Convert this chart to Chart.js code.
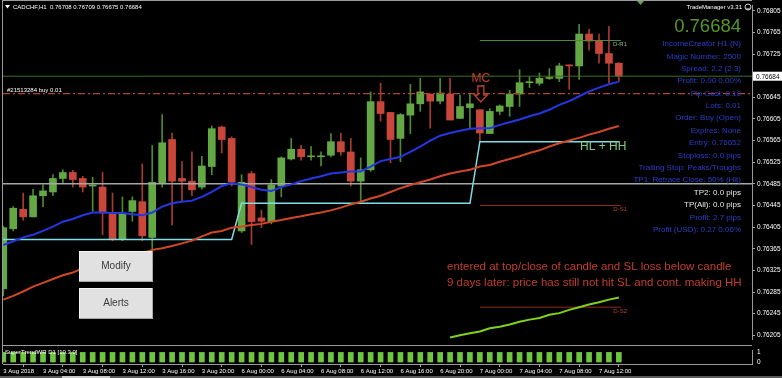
<!DOCTYPE html>
<html><head><meta charset="utf-8">
<script src="https://cdn.jsdelivr.net/npm/chart.js@4.4.1/dist/chart.umd.min.js"></script>
<style>
html,body{margin:0;padding:0;background:#000;overflow:hidden}
#wrap{position:relative;width:782px;height:378px;background:#000}
#cMain{position:absolute;left:0;top:0}
#cInd{position:absolute;left:0;top:345px}
</style></head><body>
<div id="wrap">
<canvas id="cMain" width="782" height="345"></canvas>
<canvas id="cInd" width="782" height="33"></canvas>
</div>
<script>
// ---------------- DATA ----------------
const symbol = "CADCHF,H1";
const open = [0.76291,0.76402,0.76438,0.76424,0.76463,0.76470,0.76495,0.76506,0.76495,0.76481,
0.76479,0.76432,0.76382,0.76434,0.76452,0.76386,0.76486,0.76567,0.76495,0.76490,
0.76479,0.76517,0.76590,0.76569,0.76398,0.76504,0.76422,0.76415,0.76481,0.76531,
0.76549,0.76535,0.76535,0.76538,0.76563,0.76544,0.76490,0.76511,0.76637,0.76617,
0.76569,0.76612,0.76633,0.76651,0.76638,0.76651,0.76606,0.76626,0.76622,0.76578,
0.76619,0.76628,0.76651,0.76672,0.76671,0.76680,0.76680,0.76705,0.76703,0.76762,
0.76749,0.76726,0.76708];
const high = [0.76407,0.76443,0.76468,0.76475,0.76483,0.76502,0.76511,0.76510,0.76499,0.76497,
0.76506,0.76468,0.76461,0.76461,0.76522,0.76556,0.76613,0.76579,0.76526,0.76544,
0.76536,0.76592,0.76592,0.76572,0.76502,0.76508,0.76436,0.76493,0.76535,0.76569,
0.76556,0.76554,0.76544,0.76578,0.76579,0.76569,0.76533,0.76655,0.76671,0.76617,
0.76615,0.76669,0.76680,0.76651,0.76680,0.76680,0.76649,0.76651,0.76622,0.76624,
0.76631,0.76658,0.76696,0.76683,0.76690,0.76698,0.76708,0.76705,0.76780,0.76771,
0.76762,0.76776,0.76709];
const low = [0.76278,0.76398,0.76418,0.76424,0.76443,0.76463,0.76486,0.76479,0.76470,0.76434,
0.76391,0.76380,0.76380,0.76416,0.76380,0.76332,0.76479,0.76409,0.76452,0.76463,
0.76475,0.76502,0.76542,0.76481,0.76395,0.76373,0.76404,0.76411,0.76461,0.76529,
0.76529,0.76529,0.76518,0.76535,0.76538,0.76481,0.76449,0.76508,0.76601,0.76524,
0.76526,0.76578,0.76619,0.76588,0.76633,0.76603,0.76606,0.76588,0.76565,0.76578,
0.76613,0.76610,0.76628,0.76663,0.76667,0.76678,0.76674,0.76660,0.76678,0.76732,
0.76708,0.76672,0.76675];
const close = [0.76404,0.76440,0.76424,0.76463,0.76472,0.76495,0.76506,0.76493,0.76479,0.76482,
0.76431,0.76382,0.76429,0.76454,0.76389,0.76488,0.76561,0.76490,0.76490,0.76474,
0.76518,0.76587,0.76567,0.76488,0.76488,0.76415,0.76416,0.76483,0.76533,0.76549,
0.76535,0.76535,0.76536,0.76563,0.76544,0.76490,0.76511,0.76637,0.76615,0.76567,
0.76613,0.76633,0.76655,0.76638,0.76653,0.76603,0.76628,0.76633,0.76579,0.76619,
0.76629,0.76651,0.76672,0.76672,0.76680,0.76681,0.76703,0.76703,0.76762,0.76749,
0.76726,0.76708,0.76684];
const maFast = [0.76372,0.76379,0.76386,0.76391,0.76398,0.76406,0.76415,0.76420,0.76427,0.76432,
0.76432,0.76431,0.76431,0.76429,0.76427,0.76432,0.76443,0.76449,0.76452,0.76454,
0.76461,0.76470,0.76481,0.76486,0.76484,0.76479,0.76474,0.76472,0.76479,0.76484,
0.76490,0.76495,0.76499,0.76504,0.76506,0.76508,0.76508,0.76517,0.76527,0.76531,
0.76535,0.76544,0.76554,0.76565,0.76574,0.76579,0.76583,0.76587,0.76588,0.76588,
0.76594,0.76599,0.76604,0.76610,0.76615,0.76622,0.76631,0.76638,0.76647,0.76656,
0.76663,0.76669,0.76674];
const maSlow = [0.76271,0.76278,0.76286,0.76295,0.76302,0.76309,0.76316,0.76321,0.76329,0.76334,
0.76339,0.76343,0.76348,0.76354,0.76357,0.76363,0.76366,0.76370,0.76375,0.76380,
0.76388,0.76395,0.76398,0.76404,0.76406,0.76409,0.76411,0.76415,0.76418,0.76422,
0.76425,0.76429,0.76432,0.76436,0.76441,0.76447,0.76452,0.76458,0.76463,0.76470,
0.76477,0.76483,0.76488,0.76493,0.76499,0.76504,0.76508,0.76511,0.76517,0.76520,
0.76526,0.76531,0.76536,0.76542,0.76547,0.76554,0.76560,0.76565,0.76570,0.76576,
0.76581,0.76587,0.76592];
const maLongStart = 45;
const maLong = [0.76201,0.76205,0.76209,0.76212,0.76218,0.76221,0.76225,0.76230,0.76234,0.76237,
0.76243,0.76246,0.76252,0.76257,0.76262,0.76266,0.76271,0.76275];
const trailStop = [0.76382,0.76382,0.76382,0.76382,0.76382,0.76382,0.76382,0.76382,0.76382,0.76382,
0.76382,0.76382,0.76382,0.76382,0.76382,0.76382,0.76382,0.76382,0.76382,0.76382,
0.76382,0.76382,0.76382,0.76382,0.76449,0.76449,0.76449,0.76449,0.76449,0.76449,
0.76449,0.76449,0.76449,0.76449,0.76449,0.76449,0.76449,0.76449,0.76449,0.76449,
0.76449,0.76449,0.76449,0.76449,0.76449,0.76449,0.76449,0.76449,0.76563,0.76563,
0.76563,0.76563,0.76563,0.76563,0.76563,0.76563,0.76563,0.76563,0.76563,0.76563,
0.76563,0.76563,0.76563];
const superTrend = [1,1,1,1,1,1,1,1,1,1,1,1,1,1,1,1,1,1,1,1,1,1,1,1,1,1,1,1,1,1,1,1,1,1,1,1,1,1,1,1,1,1,1,1,1,1,1,1,1,1,1,1,1,1,1,1,1,1,1,1,1,1,1];
const grayLevel = 0.76485;
const entryLevel = 0.76652;
const pivotR1 = 0.76750;
const pivotS1 = 0.76445;
const pivotS2 = 0.76257;
const pivotRange = [48, 62.2];
const yTicks = [0.76805,0.76765,0.76725,0.76685,0.76645,0.76605,0.76565,0.76525,0.76485,0.76445,0.76405,0.76365,0.76325,0.76285,0.76245,0.76205];
const xTickBars = [0,4,8,12,16,20,24,28,32,36,40,44,48,52,56,60];
const xTickLabels = ["3 Aug 2018","3 Aug 04:00","3 Aug 08:00","3 Aug 12:00","3 Aug 16:00","3 Aug 20:00","6 Aug 00:00","6 Aug 04:00","6 Aug 08:00","6 Aug 12:00","6 Aug 16:00","6 Aug 20:00","7 Aug 00:00","7 Aug 04:00","7 Aug 08:00","7 Aug 12:00"];
const panelLines = ["IncomeCreator H1 (N)","Magic Number: 2500","Spread: 2.2 (2.3)","Profit: 0.00 0.00%","Pip Cost: 0.10","Lots: 0.01","Order: Buy (Open)","Expires: None","Entry: 0.76652","Stoploss: 0.0 pips","Trailing Stop: Peaks/Troughs","TP1: Retrace Close: 50% (Hit)","TP2: 0.0 pips","TP(All): 0.0 pips","Profit: 2.7 pips","Profit (USD): 0.27 0.06%"];
const panelWhite = [false,false,false,false,false,false,false,false,false,false,false,false,true,true,false,false];
const noteLines = ["entered at top/close of candle and SL loss below candle","9 days later: price has still not hit SL and cont. making HH"];

// ---------------- SETUP ----------------
const FONT = "'Liberation Sans', Arial, sans-serif";
Chart.defaults.font.family = FONT;
Chart.defaults.color = '#ffffff';
const xMin = -0.03, xMax = 75.41;
const bars = open.map((_, i) => i);
const isBull = bars.map(i => close[i] >= open[i]);
const bullBody = '#64a845', bearBody = '#c8473a', bullWick = '#4d8a33', bearWick = '#a63b2f';

function hline(v, from, to, color, width, dash, order) {
  return {type:'line', data:[{x:from,y:v},{x:to,y:v}], borderColor:color, borderWidth:width,
    borderDash:dash||[], pointRadius:0, order:order, fill:false};
}

const overlayMain = {
  id:'overlayMain',
  afterDraw(chart) {
    const ctx = chart.ctx, xs = chart.scales.x, ys = chart.scales.y;
    ctx.save();
    // frame
    ctx.strokeStyle = '#9a9a9a'; ctx.lineWidth = 1;
    ctx.beginPath(); ctx.moveTo(2.5,0); ctx.lineTo(2.5,345); ctx.moveTo(2,0.5); ctx.lineTo(752,0.5); ctx.stroke();
    // chart shift marker
    ctx.fillStyle = '#6f9a5a';
    ctx.beginPath(); ctx.moveTo(637,1); ctx.lineTo(644,1); ctx.lineTo(640.5,5); ctx.closePath(); ctx.fill();
    // header
    ctx.fillStyle = '#ffffff';
    ctx.beginPath(); ctx.moveTo(5,5); ctx.lineTo(10,5); ctx.lineTo(7.5,8.5); ctx.closePath(); ctx.fill();
    const n = close.length - 1;
    ctx.font = '6px ' + FONT; ctx.textBaseline = 'middle'; ctx.textAlign = 'left';
    ctx.fillText(symbol + '  ' + open[n].toFixed(5) + ' ' + high[n].toFixed(5) + ' ' + low[n].toFixed(5) + ' ' + close[n].toFixed(5), 13, 7);
    // entry label
    ctx.fillText('#21513284 buy 0.01', 7, ys.getPixelForValue(entryLevel) - 3.5);
    // TradeManager panel
    ctx.textAlign = 'right';
    ctx.fillText('TradeManager v3.31', 742, 7);
    ctx.strokeStyle = '#ffffff'; ctx.lineWidth = 0.8;
    ctx.beginPath(); ctx.arc(748, 7, 3, 0, Math.PI*2); ctx.stroke();
    ctx.beginPath(); ctx.arc(748, 7.5, 1.6, 0.2, Math.PI-0.2); ctx.stroke();
    ctx.font = '18.5px ' + FONT; ctx.fillStyle = '#55972b'; ctx.textBaseline = 'alphabetic';
    ctx.fillText(close[n].toFixed(5), 741, 32);
    ctx.font = '8px ' + FONT; ctx.textBaseline = 'middle';
    panelLines.forEach((t, k) => {
      ctx.fillStyle = panelWhite[k] ? '#e8e8e8' : '#2a3fc8';
      ctx.fillText(t, 741, 44 + 12.38*k);
    });
    // pivot labels
    ctx.font = '6px ' + FONT; ctx.textAlign = 'right';
    ctx.fillStyle = '#8fb880'; ctx.fillText('D-R1', 627, ys.getPixelForValue(pivotR1) + 4);
    ctx.fillStyle = '#b8402e'; ctx.fillText('D-S1', 627, ys.getPixelForValue(pivotS1) + 4);
    ctx.fillText('D-S2', 627, ys.getPixelForValue(pivotS2) + 4);
    // MC marker
    const mx = xs.getPixelForValue(48) + 1;
    ctx.fillStyle = '#c4402e'; ctx.textAlign = 'center';
    ctx.font = '12px ' + FONT;
    ctx.fillText('MC', mx, 79);
    ctx.strokeStyle = '#c4402e'; ctx.lineWidth = 1.3;
    ctx.beginPath();
    ctx.moveTo(mx-3,86); ctx.lineTo(mx+3,86); ctx.lineTo(mx+3,95); ctx.lineTo(mx+6.5,95);
    ctx.lineTo(mx,102); ctx.lineTo(mx-6.5,95); ctx.lineTo(mx-3,95); ctx.closePath(); ctx.stroke();
    // HL + HH
    ctx.textAlign = 'left'; ctx.fillStyle = '#80cf78'; ctx.font = '12px ' + FONT;
    ctx.fillText('HL + HH', 580, 146.5);
    // note
    ctx.fillStyle = '#c23d2d'; ctx.font = '11.5px ' + FONT;
    ctx.fillText(noteLines[0], 447, 267);
    ctx.fillText(noteLines[1], 447, 282.5);
    // buttons
    [['Modify',251],['Alerts',288]].forEach(([t, y]) => {
      ctx.fillStyle = '#e1e1e1'; ctx.fillRect(79, y, 74, 31);
      ctx.strokeStyle = '#f4f4f4'; ctx.lineWidth = 1;
      ctx.beginPath(); ctx.moveTo(79.5,y+31); ctx.lineTo(79.5,y+0.5); ctx.lineTo(153,y+0.5); ctx.stroke();
      ctx.strokeStyle = '#a8a8a8';
      ctx.beginPath(); ctx.moveTo(152.5,y); ctx.lineTo(152.5,y+30.5); ctx.lineTo(79,y+30.5); ctx.stroke();
      ctx.fillStyle = '#3a3a3a'; ctx.textAlign = 'center'; ctx.font = '10px ' + FONT;
      ctx.fillText(t, 116, y + 15.5);
    });
    // bid box on axis
    const by = ys.getPixelForValue(close[n]);
    ctx.fillStyle = '#ffffff'; ctx.fillRect(753, by - 4.5, 29, 9);
    ctx.fillStyle = '#000000'; ctx.textAlign = 'left'; ctx.font = '6.5px ' + FONT;
    ctx.fillText(close[n].toFixed(5), 756, by + 0.5);
    ctx.restore();
  }
};

new Chart(document.getElementById('cMain'), {
  type: 'bar',
  data: { datasets: [
    hline(grayLevel, xMin, xMax, '#a6a6a6', 1.5, null, 4),
    hline(close[close.length-1], xMin, xMax, '#3a6e28', 1, null, 4),
    hline(entryLevel, xMin, xMax, '#b0472e', 1.2, [7,3,2,3], 4),
    hline(pivotR1, pivotRange[0], pivotRange[1], '#4f8c3a', 1, null, 4),
    hline(pivotS1, pivotRange[0], pivotRange[1], '#8e2c1e', 1, null, 4),
    hline(pivotS2, pivotRange[0], pivotRange[1], '#8e2c1e', 1, null, 4),
    {type:'line', data: bars.map(i => ({x:i, y:trailStop[i]})), borderColor:'#80dde6', borderWidth:1.5, pointRadius:0, order:3},
    {type:'line', data: bars.map(i => ({x:i, y:maSlow[i]})), borderColor:'#d0472a', borderWidth:2, pointRadius:0, order:2},
    {type:'line', data: bars.map(i => ({x:i, y:maFast[i]})), borderColor:'#2338e2', borderWidth:2, pointRadius:0, order:1},
    {type:'line', data: maLong.map((v, k) => ({x:maLongStart + k, y:v})), borderColor:'#80d21e', borderWidth:2, pointRadius:0, order:1},
    {type:'bar', data: bars.map(i => ({x:i, y:[low[i], high[i]]})), backgroundColor: bars.map(i => isBull[i] ? bullWick : bearWick),
      barThickness:1, grouped:false, order:10},
    {type:'bar', data: bars.map(i => ({x:i, y:[open[i], close[i]]})), backgroundColor: bars.map(i => isBull[i] ? bullBody : bearBody),
      barThickness:7, minBarLength:1, grouped:false, order:9}
  ]},
  options: {
    responsive:false, animation:false, events:[],
    layout:{padding:{left:3, top:1, right:0, bottom:0}},
    plugins:{legend:{display:false}, tooltip:{enabled:false}},
    scales:{
      x:{type:'linear', display:false, min:xMin, max:xMax, offset:false},
      y:{type:'linear', position:'right', min:0.76198, max:0.76814,
        afterFit(s){ s.width = 30; },
        afterBuildTicks(s){ s.ticks = yTicks.map(v => ({value:v})); },
        ticks:{color:'#ffffff', font:{size:6.5}, padding:2, autoSkip:false, callback:v => Number(v).toFixed(5)},
        grid:{drawOnChartArea:false, color:'#a8a8a8', tickLength:3},
        border:{color:'#9a9a9a'}}
    }
  },
  plugins:[overlayMain]
});

const overlayInd = {
  id:'overlayInd',
  afterDraw(chart) {
    const ctx = chart.ctx;
    ctx.save();
    ctx.strokeStyle = '#9a9a9a'; ctx.lineWidth = 1;
    ctx.beginPath(); ctx.moveTo(2,0.5); ctx.lineTo(752,0.5); ctx.moveTo(2.5,0); ctx.lineTo(2.5,19); ctx.stroke();
    ctx.fillStyle = '#ffffff'; ctx.font = '6px ' + FONT; ctx.textBaseline = 'middle'; ctx.textAlign = 'left';
    ctx.fillText('SuperTrendWR D1 [10.3.0]', 5, 7);
    ctx.fillStyle = '#5a5a5a'; ctx.fillRect(0, 31, 782, 2);
    ctx.fillStyle = '#c8c8c8'; ctx.fillRect(62, 31, 48, 2);
    ctx.restore();
  }
};

new Chart(document.getElementById('cInd'), {
  type:'bar',
  data:{ datasets:[
    {data: bars.map(i => ({x:i, y:superTrend[i]})), backgroundColor:'#6ec540', barThickness:5, grouped:false}
  ]},
  options:{
    responsive:false, animation:false, events:[],
    layout:{padding:{left:3, top:0, right:0, bottom:0}},
    plugins:{legend:{display:false}, tooltip:{enabled:false}},
    scales:{
      x:{type:'linear', min:xMin, max:xMax, offset:false,
        afterFit(s){ s.height = 14; },
        afterBuildTicks(s){ s.ticks = xTickBars.map(v => ({value:v})); },
        ticks:{color:'#ffffff', font:{size:6}, align:'start', padding:1, maxRotation:0, autoSkip:false,
          callback:(v, idx) => xTickLabels[idx]},
        grid:{drawOnChartArea:false, color:'#a8a8a8', tickLength:3},
        border:{color:'#9a9a9a'}},
      y:{type:'linear', position:'right', min:-0.15, max:1.15,
        afterFit(s){ s.width = 30; },
        afterBuildTicks(s){ s.ticks = [{value:1},{value:0}]; },
        ticks:{color:'#ffffff', font:{size:6.5}, padding:2, callback:v => String(v)},
        grid:{drawOnChartArea:false, color:'#000000', tickLength:3},
        border:{color:'#9a9a9a'}}
    }
  },
  plugins:[overlayInd]
});
</script>
</body></html>
